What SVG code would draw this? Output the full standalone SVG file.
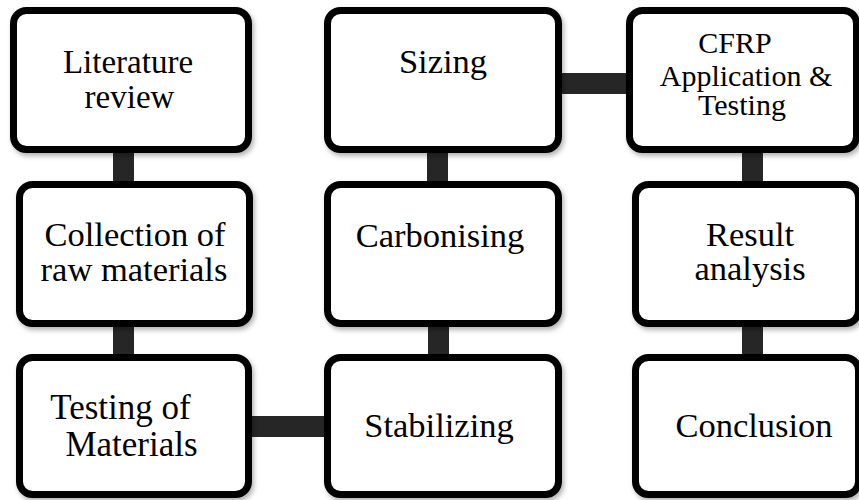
<svg xmlns="http://www.w3.org/2000/svg" width="859" height="500" viewBox="0 0 859 500">
<style>
.box{fill:#fff;stroke:#000;stroke-width:7;filter:url(#sh)}
text{font-family:'Liberation Serif','Times New Roman',Times,serif;font-size:34.5px;fill:#000;text-anchor:middle}
.lit{font-size:33px}
.tst{font-size:35px}
.sm{font-size:30px}
.con{fill:#262626}
</style>
<defs>
<filter id="sh" x="-10%" y="-10%" width="130%" height="130%">
<feDropShadow dx="2" dy="3" stdDeviation="2.5" flood-color="#000" flood-opacity="0.3"/>
</filter>
</defs>
<rect width="859" height="500" fill="#fff"/>
<g id="connectors">
<rect class="con" x="113" y="150" width="21" height="34"/>
<rect class="con" x="113" y="323" width="21" height="34"/>
<rect class="con" x="427" y="150" width="21" height="34"/>
<rect class="con" x="428" y="323" width="21" height="34"/>
<rect class="con" x="742" y="150" width="21" height="34"/>
<rect class="con" x="742" y="323" width="21" height="34"/>
<rect class="con" x="558" y="73" width="72" height="21"/>
<rect class="con" x="248" y="416" width="80" height="21"/>
</g>
<g id="literature">
<rect class="box" x="13.5" y="10.5" width="235" height="139" rx="13"/>
<text class="lit" x="128" y="73">Literature</text>
<text class="lit" x="129.5" y="108">review</text>
</g>
<g id="collection">
<rect class="box" x="19.5" y="184.5" width="230" height="139" rx="13"/>
<text x="135" y="246">Collection of</text>
<text x="134" y="281">raw materials</text>
</g>
<g id="testing">
<rect class="box" x="19.5" y="357.5" width="229" height="137" rx="13"/>
<text class="tst" x="120.5" y="419">Testing of</text>
<text class="tst" x="131.5" y="456">Materials</text>
</g>
<g id="sizing">
<rect class="box" x="327.5" y="10.5" width="231" height="139" rx="13"/>
<text x="443" y="73">Sizing</text>
</g>
<g id="carbonising">
<rect class="box" x="327.5" y="184.5" width="231" height="139" rx="13"/>
<text x="440" y="247">Carbonising</text>
</g>
<g id="stabilizing">
<rect class="box" x="327.5" y="357.5" width="231" height="137" rx="13"/>
<text x="439" y="437">Stabilizing</text>
</g>
<g id="cfrp">
<rect class="box" x="629.5" y="10.5" width="227" height="139" rx="13"/>
<text class="sm" x="735" y="53">CFRP</text>
<text class="sm" x="746" y="86">Application &amp;</text>
<text class="sm" x="742" y="115">Testing</text>
</g>
<g id="result">
<rect class="box" x="635.5" y="184.5" width="223" height="139" rx="13"/>
<text x="750" y="246">Result</text>
<text x="750" y="280">analysis</text>
</g>
<g id="conclusion">
<rect class="box" x="635.5" y="357.5" width="223" height="137" rx="13"/>
<text x="754" y="437">Conclusion</text>
</g>
</svg>
